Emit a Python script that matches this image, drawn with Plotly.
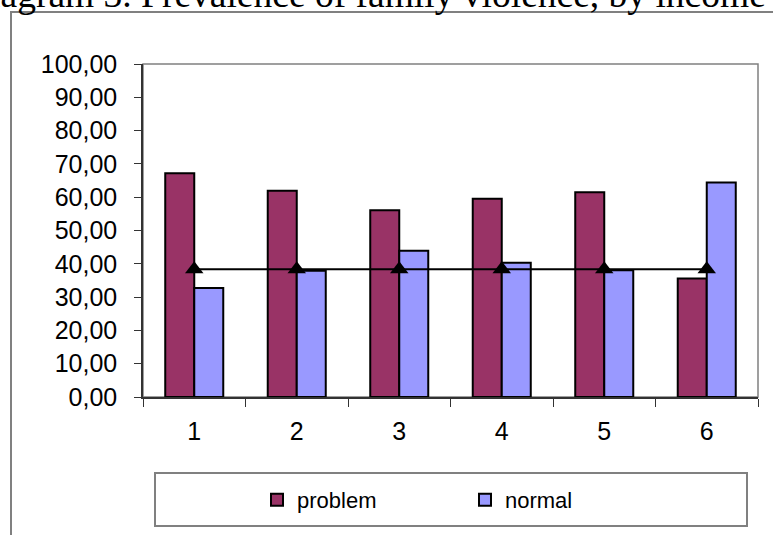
import plotly.graph_objects as go

categories = ["1", "2", "3", "4", "5", "6"]
problem = [67.2, 61.9, 56.1, 59.5, 61.5, 35.6]
normal = [32.7, 37.9, 43.9, 40.3, 38.1, 64.4]
average = [38.4, 38.4, 38.4, 38.4, 38.4, 38.4]
title_text = "Diagram 3. Prevalence of family violence, by income"

W, H = 773, 535
L, R, T, B = 143, 758, 64, 397  # plot area in px


def px(x):
    return (x - L) / (R - L)


def py(y):
    return 1 - (y - T) / (B - T)


fig = go.Figure()
fig.add_trace(go.Bar(x=categories, y=problem, name="problem",
                     marker=dict(color="#993366", line=dict(color="black", width=2))))
fig.add_trace(go.Bar(x=categories, y=normal, name="normal",
                     marker=dict(color="#9999FF", line=dict(color="black", width=2))))
fig.add_trace(go.Scatter(x=categories, y=average, mode="lines+markers", showlegend=False,
                         line=dict(color="black", width=2),
                         marker=dict(symbol="triangle-up", size=16, color="black")))

fig.update_layout(
    width=W, height=H,
    margin=dict(l=L, r=W - R, t=T, b=H - B, pad=0),
    paper_bgcolor="white", plot_bgcolor="white",
    separators=",.",
    barmode="group", bargap=0.434, bargroupgap=0,
    font=dict(family="Liberation Sans, Arial", color="black", size=24),
    showlegend=True,
    legend=dict(orientation="h", x=px(257), xanchor="left", y=py(500), yanchor="middle",
                font=dict(size=22), entrywidth=163, entrywidthmode="pixels",
                bgcolor="rgba(0,0,0,0)", borderwidth=0, traceorder="normal"),
    xaxis=dict(type="category", range=[-0.5, 5.5], showgrid=False, showline=True,
               linecolor="#333", linewidth=1.5, ticks="outside", ticklen=8, tickcolor="#333",
               tickson="boundaries", tickfont=dict(size=25), ticklabelstandoff=11, zeroline=False),
    yaxis=dict(range=[0, 100], dtick=10, tickformat=".2f", showgrid=False, showline=True,
               linecolor="#333", linewidth=1.5, ticks="outside", ticklen=7, tickcolor="#333",
               tickfont=dict(size=25), ticklabelstandoff=12, zeroline=False),
    shapes=[
        dict(type="rect", xref="paper", yref="paper", x0=px(11), x1=px(800), y0=py(560), y1=py(12),
             line=dict(color="#808080", width=2), layer="below"),
        dict(type="rect", xref="paper", yref="paper", x0=0, x1=1, y0=0, y1=1,
             line=dict(color="#808080", width=1.5), layer="below"),
        dict(type="rect", xref="paper", yref="paper", x0=px(155), x1=px(747), y0=py(526), y1=py(473),
             line=dict(color="#808080", width=2), layer="below"),
    ],
    annotations=[
        dict(text=title_text, xref="paper", yref="paper", x=px(768), xanchor="right",
             y=py(-6), yanchor="middle", showarrow=False,
             font=dict(family="Liberation Serif, Times New Roman", size=37.5, color="black")),
    ],
)

fig.write_html("out.html", config={"displayModeBar": False},
               post_script="document.body.style.margin='0';document.body.style.overflow='hidden';")
